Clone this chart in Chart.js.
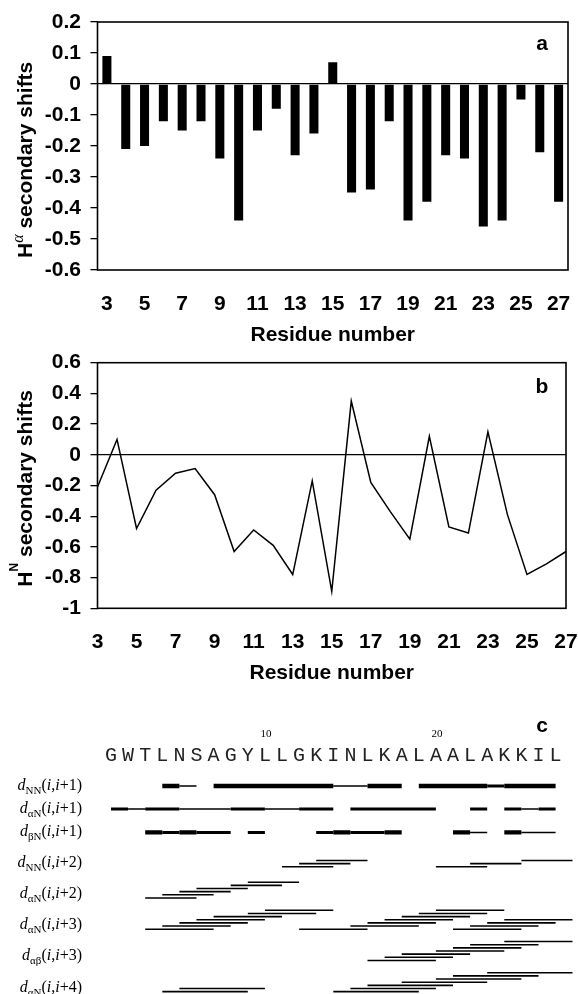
<!DOCTYPE html>
<html><head><meta charset="utf-8">
<script src="https://cdn.jsdelivr.net/npm/chart.js@4.4.1/dist/chart.umd.min.js"></script>
<style>
html,body{margin:0;padding:0;background:#fff;}
body{width:578px;height:994px;position:relative;overflow:hidden;}
.pane{position:absolute;left:0;}
canvas{display:block;}
</style></head><body>
<div class="pane" style="top:0px"><canvas id="ca" width="578" height="350"></canvas></div>
<div class="pane" style="top:350px"><canvas id="cb" width="578" height="350"></canvas></div>
<div class="pane" style="top:700px"><canvas id="cc" width="578" height="294"></canvas></div>
<script>
// ---------------- data ----------------
const residues = [3,4,5,6,7,8,9,10,11,12,13,14,15,16,17,18,19,20,21,22,23,24,25,26,27];
const residueTickLabels = ['3','5','7','9','11','13','15','17','19','21','23','25','27'];
const haShifts = [0.09,-0.21,-0.20,-0.12,-0.15,-0.12,-0.24,-0.44,-0.15,-0.08,-0.23,-0.16,0.07,-0.35,-0.34,-0.12,-0.44,-0.38,-0.23,-0.24,-0.46,-0.44,-0.05,-0.22,-0.38];
const hnShifts = [-0.21,0.10,-0.48,-0.23,-0.12,-0.09,-0.26,-0.63,-0.49,-0.59,-0.78,-0.17,-0.89,0.35,-0.18,-0.37,-0.55,0.12,-0.47,-0.51,0.15,-0.39,-0.78,-0.71,-0.63];
const sequence = ['G','W','T','L','N','S','A','G','Y','L','L','G','K','I','N','L','K','A','L','A','A','L','A','K','K','I','L'];
const sequenceMarks = [10, 20];
// sequential NOE intensity for pair (i,i+1), i = 1..26 (0 none, 1 weak, 2 medium, 3 strong)
const dNN1 = [0,0,0,3,1,0,3,3,3,3,3,3,3,1,1,3,3,0,3,3,3,3,2,3,3,3];
const dAN1 = [2,1,2,2,1,1,1,2,2,1,1,2,2,0,2,2,2,2,2,0,0,2,0,2,1,2];
const dBN1 = [0,0,3,2,3,2,2,0,2,0,0,0,2,3,2,2,3,0,0,0,3,1,0,3,1,1];
// medium-range NOEs, drawn spans [from, to] in residue positions
const dNN2 = [[11,14],[12,15],[13,16],[20,23],[22,25],[25,28]];
const dAN2 = [[3,6],[4,7],[5,8],[6,9],[8,11],[9,12]];
const dAN3 = [[3,7],[4,8],[5,9],[6,10],[7,11],[9,13],[10,14],[12,16],[15,19],[16,20],[17,21],[18,22],[19,23],[20,24],[21,25],[22,26],[23,27],[24,28]];
const dAB3 = [[16,20],[17,21],[18,22],[20,24],[21,25],[22,26],[24,28]];
const dAN4 = [[4,9],[5,10],[14,19],[15,20],[16,21],[18,23],[20,25],[21,26],[23,28]];
const noeRowSubs = ['NN','\u03B1N','\u03B2N','NN','\u03B1N','\u03B1N','\u03B1\u03B2','\u03B1N'];
const noeRowSteps = [1,1,1,2,2,3,3,4];

// ---------------- helpers ----------------
Chart.defaults.font.family = '"Liberation Sans", Arial, Helvetica, sans-serif';
Chart.defaults.color = '#000';
const SANS = '"Liberation Sans", Arial, sans-serif';
const SERIF = '"Liberation Serif", "Times New Roman", serif';
const fmt = v => { const r = Math.round(v*10)/10; return (Math.abs(r) < 1e-9) ? '0' : String(r); };

function drawParts(ctx, parts, x, y) {
  let cx = x;
  for (const p of parts) { ctx.font = p.font; ctx.fillText(p.t, cx, y + (p.dy||0)); cx += ctx.measureText(p.t).width; }
  return cx - x;
}
function partsWidth(ctx, parts) {
  let w = 0; for (const p of parts) { ctx.font = p.font; w += ctx.measureText(p.t).width; } return w;
}

const framePlugin = {
  id: 'frame',
  afterDraw(chart) {
    const {ctx, chartArea: a} = chart;
    ctx.save(); ctx.strokeStyle = '#000'; ctx.lineWidth = 1.6;
    ctx.strokeRect(a.left, a.top, a.right - a.left, a.bottom - a.top);
    ctx.restore();
  }
};

function titlePlugin(id, supParts, letter, letterOffset, yTitleBase) {
  return {
    id,
    afterDraw(chart) {
      const {ctx, chartArea: a} = chart;
      ctx.save();
      ctx.fillStyle = '#000';
      ctx.textBaseline = 'alphabetic';
      ctx.font = 'bold 21px ' + SANS; ctx.textAlign = 'center';
      ctx.fillText('Residue number', (a.left + a.right) / 2, a.bottom + 70.5);
      ctx.fillText(letter, 542, a.top + letterOffset);
      ctx.textAlign = 'left';
      ctx.translate(32, yTitleBase);
      ctx.rotate(-Math.PI / 2);
      const parts = [{t:'H', font:'bold 21px ' + SANS}].concat(supParts).concat([{t:' secondary shifts', font:'bold 21px ' + SANS}]);
      drawParts(ctx, parts, 0, 0);
      ctx.restore();
    }
  };
}

function yAxis(min, max, step) {
  return {
    min, max,
    ticks: {stepSize: step, padding: 9.5, font: {size: 21, weight: 'bold'}, callback: v => fmt(v)},
    grid: {
      drawOnChartArea: true,
      color: c => (c.tick && Math.abs(c.tick.value) < 1e-9) ? '#000' : 'rgba(0,0,0,0)',
      lineWidth: 1.3, tickColor: '#000', tickLength: 7, tickWidth: 1.3
    },
    border: {display: false},
    afterFit(s) { s.width = 97.5; s.paddingTop = 0; s.paddingBottom = 0; }
  };
}
function xAxis(h) {
  return {
    grid: {display: false, drawTicks: false}, border: {display: false},
    ticks: {autoSkip: false, maxRotation: 0, minRotation: 0, padding: 21.5, font: {size: 21, weight: 'bold'},
      callback: (v, i) => residueTickLabels.includes(String(residues[i])) ? String(residues[i]) : ''},
    afterFit(s) { s.height = h; s.paddingLeft = 0; s.paddingRight = 0; }
  };
}

// ---------------- panel a ----------------
new Chart(document.getElementById('ca'), {
  type: 'bar',
  data: {labels: residues.map(String), datasets: [{data: haShifts, backgroundColor: '#000', borderWidth: 0, barPercentage: 0.48, categoryPercentage: 1}]},
  options: {
    responsive: false, animation: false, devicePixelRatio: 1,
    layout: {padding: {left: 0, right: 10, top: 22, bottom: 0}},
    plugins: {legend: {display: false}, tooltip: {enabled: false}},
    scales: {x: xAxis(80), y: yAxis(-0.6, 0.2, 0.1)}
  },
  plugins: [framePlugin, titlePlugin('ta', [{t:'\u03B1', font:'italic 16px ' + SERIF, dy:-9}], 'a', 28, 258)]
});

// ---------------- panel b ----------------
new Chart(document.getElementById('cb'), {
  type: 'line',
  data: {labels: residues.map(String), datasets: [{data: hnShifts, borderColor: '#000', borderWidth: 1.5, pointRadius: 0, tension: 0, fill: false}]},
  options: {
    responsive: false, animation: false, devicePixelRatio: 1,
    layout: {padding: {left: 0, right: 12, top: 12.7, bottom: 0}},
    plugins: {legend: {display: false}, tooltip: {enabled: false}},
    scales: {x: xAxis(91.7), y: yAxis(-1, 0.6, 0.2)}
  },
  plugins: [framePlugin, titlePlugin('tb', [{t:'N', font:'bold 12px ' + SANS, dy:-14}], 'b', 30.5, 236.7)]
});

// ---------------- panel c ----------------
const PX_PER_UNIT = 23;
const rowVal = k => k < 3 ? [0, 1, 2.02][k] : 3.51 + (k - 3) * 1.358;
const laneUnit = 3.15 / PX_PER_UNIT;
const weightWidth = {1: 1.4, 2: 3.1, 3: 4.3};
const LANE_WRAP = 7;
function assignLanes(list) {
  const out = []; let prevEnd = -Infinity, lane = 0;
  list.forEach((s, idx) => { lane = (idx > 0 && s[0] <= prevEnd) ? (lane + 1) % LANE_WRAP : 0; out.push(lane); prevEnd = s[1]; });
  return out;
}
const datasetsC = [];
[dNN1, dAN1, dBN1].forEach((arr, k) => {
  [1, 2, 3].forEach(level => {
    const pts = []; let i = 0;
    while (i < arr.length) {
      if (arr[i] === level) {
        let j = i; while (j + 1 < arr.length && arr[j + 1] === level) j++;
        pts.push({x: i + 1, y: rowVal(k)}, {x: j + 2, y: rowVal(k)}, {x: j + 2, y: null});
        i = j + 1;
      } else i++;
    }
    if (pts.length) datasetsC.push({data: pts, borderColor: '#000', borderWidth: weightWidth[level], pointRadius: 0, borderCapStyle: 'butt', spanGaps: false, fill: false});
  });
});
[dNN2, dAN2, dAN3, dAB3, dAN4].forEach((list, m) => {
  const k = m + 3; const lanes = assignLanes(list); const pts = [];
  list.forEach((s, idx) => {
    const y = rowVal(k) - lanes[idx] * laneUnit;
    pts.push({x: s[0], y}, {x: s[1], y}, {x: s[1], y: null});
  });
  datasetsC.push({data: pts, borderColor: '#000', borderWidth: 1.6, pointRadius: 0, borderCapStyle: 'butt', spanGaps: false, fill: false});
});

const seqPlugin = {
  id: 'seq',
  afterDraw(chart) {
    const {ctx} = chart; const xs = chart.scales.x, ys = chart.scales.y;
    ctx.save(); ctx.fillStyle = '#000';
    ctx.font = 'bold 21px ' + SANS; ctx.textAlign = 'center'; ctx.textBaseline = 'alphabetic';
    ctx.fillText('c', 542, 32);
    ctx.font = '20px "Liberation Mono", "Courier New", monospace'; ctx.fillStyle = '#222';
    sequence.forEach((aa, i) => ctx.fillText(aa, xs.getPixelForValue(i + 1), 61));
    ctx.font = '11px ' + SERIF; ctx.fillStyle = '#000';
    sequenceMarks.forEach(n => ctx.fillText(String(n), xs.getPixelForValue(n) + 1, 36.5));
    ctx.textAlign = 'left';
    noeRowSubs.forEach((sub, k) => {
      const parts = [
        {t:'d', font:'italic 16px ' + SERIF},
        {t:sub, font:'11px ' + SERIF, dy:4},
        {t:'(', font:'16px ' + SERIF},
        {t:'i', font:'italic 16px ' + SERIF},
        {t:',', font:'16px ' + SERIF},
        {t:'i', font:'italic 16px ' + SERIF},
        {t:'+' + noeRowSteps[k] + ')', font:'16px ' + SERIF}
      ];
      const w = partsWidth(ctx, parts);
      const base = ys.getPixelForValue(rowVal(k)) + (k < 3 ? 4 : 0);
      drawParts(ctx, parts, 82 - w, base);
    });
    ctx.restore();
  }
};

new Chart(document.getElementById('cc'), {
  type: 'line',
  data: {datasets: datasetsC},
  options: {
    responsive: false, animation: false, devicePixelRatio: 1,
    layout: {padding: {left: 111, right: 5.3, top: 63, bottom: 1}},
    plugins: {legend: {display: false}, tooltip: {enabled: false}},
    scales: {
      x: {type: 'linear', min: 1, max: 28, display: false},
      y: {type: 'linear', min: -1, max: 9, reverse: true, display: false}
    }
  },
  plugins: [seqPlugin]
});
</script>
</body></html>
